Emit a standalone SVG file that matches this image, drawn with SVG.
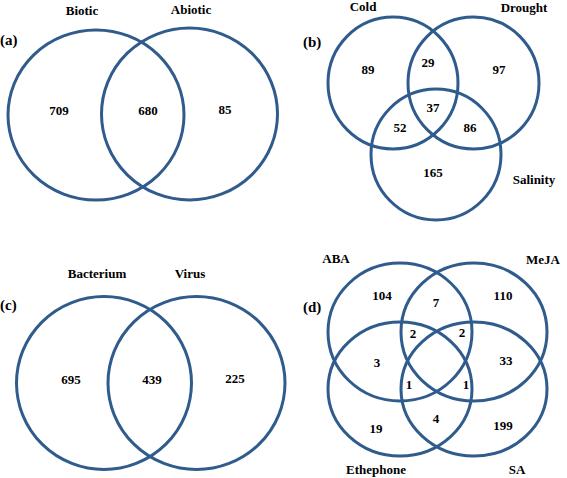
<svg xmlns="http://www.w3.org/2000/svg" width="567" height="478" viewBox="0 0 567 478">
<style>
.c{fill:none;stroke:#2f5b8d;stroke-width:3}
text{font-family:"Liberation Serif","Times New Roman",serif;font-weight:bold;font-size:13px;fill:#000;text-anchor:middle}
.p{font-size:15px;text-anchor:start}
</style>
<rect width="567" height="478" fill="#fff"/>
<g id="panel-a">
<g id="a-biotic"><ellipse class="c" cx="96" cy="115" rx="88" ry="85"/><text x="82" y="15">Biotic</text></g>
<g id="a-abiotic"><ellipse class="c" cx="189.5" cy="114" rx="88" ry="86"/><text x="191" y="14">Abiotic</text></g>
<text class="p" x="0" y="45">(a)</text>
<text x="59" y="115">709</text>
<text x="148" y="115">680</text>
<text x="225" y="114">85</text>
</g>
<g id="panel-b">
<g id="b-cold"><ellipse class="c" cx="393" cy="83" rx="65" ry="66"/><text x="363" y="11">Cold</text></g>
<g id="b-drought"><ellipse class="c" cx="473.5" cy="83" rx="65.5" ry="66"/><text x="524" y="12">Drought</text></g>
<g id="b-salinity"><ellipse class="c" cx="436" cy="154.5" rx="65" ry="65.5"/><text x="534" y="184">Salinity</text></g>
<text class="p" x="303" y="47">(b)</text>
<text x="368" y="74">89</text>
<text x="428" y="67">29</text>
<text x="499" y="74">97</text>
<text x="433" y="112">37</text>
<text x="400" y="132">52</text>
<text x="470" y="132">86</text>
<text x="433" y="177">165</text>
</g>
<g id="panel-c">
<g id="c-bacterium"><ellipse class="c" cx="104" cy="383" rx="87.5" ry="86.5"/><text x="97" y="278">Bacterium</text></g>
<g id="c-virus"><ellipse class="c" cx="196.5" cy="383" rx="88.5" ry="86.5"/><text x="190" y="278">Virus</text></g>
<text class="p" x="0" y="310">(c)</text>
<text x="71" y="384">695</text>
<text x="152" y="384">439</text>
<text x="235" y="383">225</text>
</g>
<g id="panel-d">
<g id="d-aba"><ellipse class="c" cx="400" cy="332" rx="72" ry="69"/><text x="336" y="263">ABA</text></g>
<g id="d-meja"><ellipse class="c" cx="474" cy="332" rx="73" ry="69"/><text x="543" y="264">MeJA</text></g>
<g id="d-ethephone"><ellipse class="c" cx="400" cy="389" rx="72" ry="67"/><text x="376" y="474">Ethephone</text></g>
<g id="d-sa"><ellipse class="c" cx="474" cy="389" rx="73" ry="67"/><text x="517" y="474">SA</text></g>
<text class="p" x="303" y="312">(d)</text>
<text x="382" y="300">104</text>
<text x="436" y="307">7</text>
<text x="503" y="300">110</text>
<text x="413" y="338">2</text>
<text x="462" y="337">2</text>
<text x="377" y="367">3</text>
<text x="506" y="365">33</text>
<text x="409" y="389">1</text>
<text x="466" y="389">1</text>
<text x="436" y="423">4</text>
<text x="376" y="433">19</text>
<text x="503" y="430">199</text>
</g>
<g id="connectors"/>
</svg>
